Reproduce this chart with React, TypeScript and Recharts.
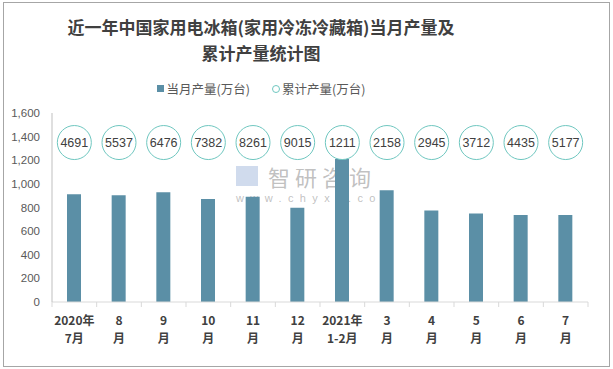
import { ComposedChart, Bar, Line, XAxis, YAxis, Legend } from "recharts";

const monthTop = ["2020年", "8", "9", "10", "11", "12", "2021年", "3", "4", "5", "6", "7"];
const monthBottom = ["7月", "月", "月", "月", "月", "月", "1-2月", "月", "月", "月", "月", "月"];
const monthly = [912, 904, 929, 873, 892, 797, 1211, 947, 775, 750, 737, 737];
const cumulative = [4691, 5537, 6476, 7382, 8261, 9015, 1211, 2158, 2945, 3712, 4435, 5177];
const yTicks = [0, 200, 400, 600, 800, 1000, 1200, 1400, 1600];

const data = monthTop.map((m, i) => ({
  name: m,
  sub: monthBottom[i],
  monthly: monthly[i],
  cumulative: cumulative[i],
}));

const BAR_COLOR = "#5B8FA6";
const RING_COLOR = "#6FC7C0";
const W = 613;
const H = 369;
const PLOT_LEFT = 52;
const PLOT_RIGHT = 588;
const STEP = (PLOT_RIGHT - PLOT_LEFT) / data.length;
const CJK = "'Noto Sans CJK SC', 'Liberation Sans', sans-serif";

function MonthTick(props: any) {
  const { x, y, payload } = props;
  const i = payload.index;
  return (
    <g>
      <line x1={x - STEP / 2} x2={x - STEP / 2} y1={y} y2={y + 5} stroke="#D9D9D9" />
      {i === data.length - 1 && (
        <line x1={x + STEP / 2} x2={x + STEP / 2} y1={y} y2={y + 5} stroke="#D9D9D9" />
      )}
      <text x={x} y={y + 23} textAnchor="middle" fontSize={12} fontWeight="bold" fill="#404040" fontFamily={CJK}>
        {data[i].name}
      </text>
      <text x={x} y={y + 41} textAnchor="middle" fontSize={12} fontWeight="bold" fill="#404040" fontFamily={CJK}>
        {data[i].sub}
      </text>
    </g>
  );
}

function RingDot(props: any) {
  const { cx, cy, payload } = props;
  return (
    <g>
      <circle cx={cx} cy={cy} r={17} fill="#fff" stroke={RING_COLOR} strokeWidth={1} />
      <text x={cx} y={cy + 4.5} textAnchor="middle" fontSize={12.5} fill="#404040" fontFamily="'Liberation Sans', sans-serif">
        {payload.cumulative}
      </text>
    </g>
  );
}

function LegendBox() {
  return (
    <div style={{ display: "flex", justifyContent: "center", alignItems: "center", fontSize: 12.5, color: "#595959", fontFamily: CJK }}>
      <span style={{ display: "inline-block", width: 7, height: 7, background: BAR_COLOR, marginRight: 3 }} />
      <span style={{ marginRight: 22 }}>当月产量(万台)</span>
      <span style={{ display: "inline-block", width: 6, height: 6, borderRadius: "50%", border: `1px solid ${RING_COLOR}`, marginRight: 2 }} />
      <span>累计产量(万台)</span>
    </div>
  );
}

export default function App() {
  return (
    <div style={{ position: "absolute", left: 0, top: 0, width: W, height: H, background: "#fff" }}>
      <div style={{ position: "absolute", left: 3, top: 2, width: 605, height: 363, border: "1px solid #A6A6A6" }} />
      <div
        style={{
          position: "absolute",
          left: 0,
          top: 14,
          width: 522,
          textAlign: "center",
          fontFamily: CJK,
          fontWeight: "bold",
          fontSize: 17,
          lineHeight: "26px",
          color: "#404040",
        }}
      >
        近一年中国家用电冰箱(家用冷冻冷藏箱)当月产量及
        <br />
        累计产量统计图
      </div>
      <div style={{ position: "absolute", left: 236, top: 164, pointerEvents: "none", color: "rgba(140,140,140,0.55)" }}>
        <div style={{ display: "flex", alignItems: "center", height: 24 }}>
          <span style={{ display: "inline-block", width: 22, height: 20, background: "rgba(150,175,215,0.45)", marginRight: 10 }} />
          <span style={{ fontFamily: CJK, fontSize: 22, letterSpacing: 5, lineHeight: "22px" }}>智研咨询</span>
        </div>
        <div style={{ fontFamily: "'Liberation Sans', sans-serif", fontSize: 11, letterSpacing: 6.4, lineHeight: "12px", marginTop: 4 }}>
          www.chyxx.com
        </div>
      </div>
      <ComposedChart
        width={W}
        height={H}
        data={data}
        margin={{ top: 94, right: W - PLOT_RIGHT, bottom: 27, left: 8 }}
        style={{ position: "absolute", left: 0, top: 0 }}
      >
        <Legend
          verticalAlign="top"
          content={() => <LegendBox />}
          wrapperStyle={{ top: 79, left: 0, width: 522 }}
        />
        <XAxis
          dataKey="name"
          axisLine={{ stroke: "#D9D9D9" }}
          tickLine={false}
          tickSize={0}
          tickMargin={0}
          height={40}
          interval={0}
          tick={<MonthTick />}
        />
        <YAxis
          width={44}
          domain={[0, 1600]}
          ticks={yTicks}
          tickFormatter={(v: number) => v.toLocaleString("en-US")}
          axisLine={{ stroke: "#BFBFBF" }}
          tickLine={false}
          tick={{ fontSize: 11.5, fill: "#595959", fontFamily: "'Liberation Sans', sans-serif" }}
          tickMargin={6}
        />
        <Bar dataKey="monthly" fill={BAR_COLOR} barSize={14} isAnimationActive={false} />
        <Line
          dataKey={() => 1350}
          stroke="none"
          dot={<RingDot />}
          activeDot={false}
          isAnimationActive={false}
        />
      </ComposedChart>
    </div>
  );
}
